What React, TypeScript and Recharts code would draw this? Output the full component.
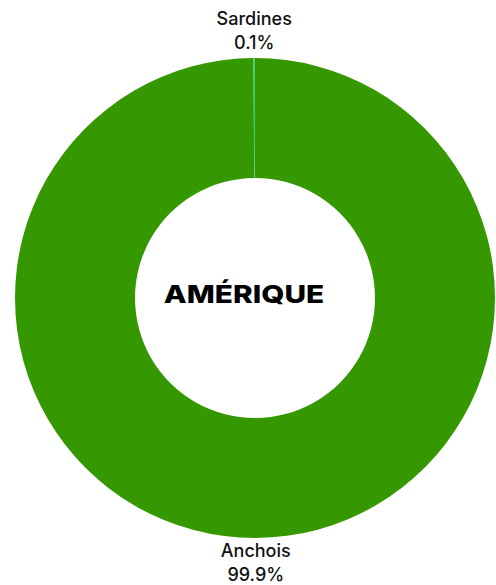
import { PieChart, Pie, Cell, Label } from "recharts";

const species = ["Anchois", "Sardines"];
const shares = [99.9, 0.1];
const colors = ["#359800", "#3cc983"];
const region = "AMÉRIQUE";

const data = species.map((name, i) => ({ name, value: shares[i] }));

const FONT = "Inter, 'Open Sans', 'DejaVu Sans', sans-serif";
const RAD = Math.PI / 180;

interface SliceLabelProps { cx?: number; cy?: number; midAngle?: number; outerRadius?: number; name?: string; value?: number }
function SliceLabel({ cx = 0, cy = 0, midAngle = 0, outerRadius = 0, name, value }: SliceLabelProps) {
  const x = cx + (outerRadius + 6) * Math.cos(-midAngle * RAD);
  const y = cy + (outerRadius + 6) * Math.sin(-midAngle * RAD);
  const above = y < cy;
  const y1 = above ? y - 27 : y + 13;
  return (
    <text x={x} y={y1} textAnchor="middle" fill="#111" fontFamily={FONT} fontSize={18} fontWeight={500}>
      <tspan x={x} dy={0}>{name}</tspan>
      <tspan x={x} dy={24}>{`${value}%`}</tspan>
    </text>
  );
}

type Box = { x?: number; y?: number; width?: number; height?: number };
// title is centred on the chart box, not the ring (as in the original); stretched to mimic a wide geometric face
function CenterLabel({ viewBox }: { viewBox?: Box }) {
  const b = viewBox ?? {};
  const mx = (b.x ?? 0) + (b.width ?? 496) / 2;
  const my = (b.y ?? 0) + (b.height ?? 585) / 2;
  return (
    <text transform={`translate(${mx - 4},${my + 10.5}) scale(1.19,1)`} x={0} y={0} textAnchor="middle" fill="#000" fontFamily={FONT} fontSize={25} fontWeight={800}>
      {region}
    </text>
  );
}

export default function App() {
  return (
    <div style={{ position: "absolute", left: 0, top: 0, width: 496, height: 585, background: "#fff" }}>
      <PieChart width={496} height={585} margin={{ top: 0, right: 0, bottom: 0, left: 0 }}>
        <Pie
          data={data}
          dataKey="value"
          nameKey="name"
          cx={255}
          cy={298}
          innerRadius={120}
          outerRadius={240}
          startAngle={90}
          endAngle={-270}
          stroke="none"
          label={<SliceLabel />}
          labelLine={false}
          isAnimationActive={false}
        >
          {data.map((d, i) => <Cell key={d.name} fill={colors[i]} />)}
          <Label position="center" content={<CenterLabel />} />
        </Pie>
      </PieChart>
    </div>
  );
}
